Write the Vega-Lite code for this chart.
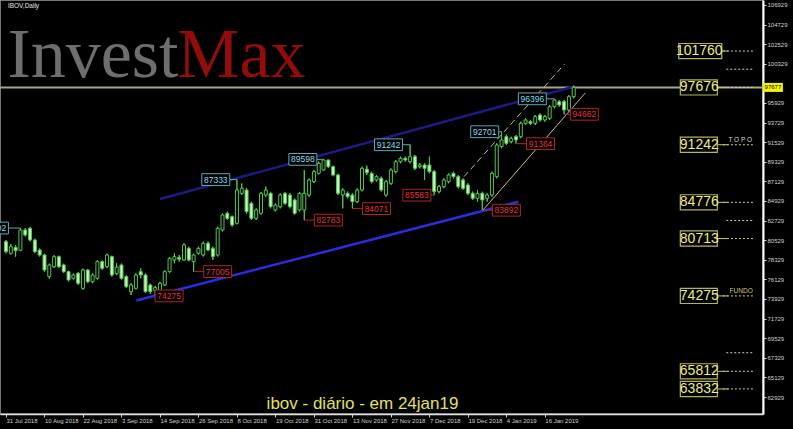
{
"$schema":"https://vega.github.io/schema/vega-lite/v6.json",
"width":763,"height":414,
"autosize":{"type":"none"},
"padding":{"left":0,"top":0,"right":30,"bottom":15},
"background":"#000000",
"config":{"view":{"stroke":"#9a9a9a","strokeWidth":1.5},"font":"Liberation Sans","axis":{"grid":false,"labelOverlap":false,"labelFlush":false}},
"resolve":{"axis":{"x":"independent","y":"independent"}},
"data":{"values":[{"one":1}]},
"datasets":{
"candles":[
{"i":0,"o":80365,"h":80552,"l":79055,"c":79242},{"i":1,"o":79055,"h":80100,"l":78900,"c":79803},{"i":2,"o":79729,"h":79990,"l":78681,"c":79355},{"i":3,"o":79400,"h":81892,"l":79300,"c":81674},{"i":4,"o":81674,"h":81900,"l":80950,"c":81113},{"i":5,"o":81861,"h":82000,"l":80400,"c":80552},{"i":6,"o":80552,"h":80700,"l":79100,"c":79242},{"i":7,"o":79429,"h":79600,"l":78700,"c":78868},{"i":8,"o":78868,"h":79000,"l":77000,"c":77185},{"i":9,"o":76436,"h":77900,"l":76200,"c":77746},
{"i":10,"o":77559,"h":78850,"l":77400,"c":78681},{"i":11,"o":78681,"h":78800,"l":77400,"c":77559},{"i":12,"o":77746,"h":77900,"l":76850,"c":76997},{"i":13,"o":76997,"h":77100,"l":75900,"c":76062},{"i":14,"o":76249,"h":76800,"l":76100,"c":76623},{"i":15,"o":76810,"h":76950,"l":75500,"c":75688},{"i":16,"o":75127,"h":77350,"l":74950,"c":77185},{"i":17,"o":77185,"h":77300,"l":75700,"c":75875},{"i":18,"o":75875,"h":76800,"l":75700,"c":76623},{"i":19,"o":76249,"h":78300,"l":76100,"c":78120},
{"i":20,"o":78120,"h":78250,"l":77200,"c":77372},{"i":21,"o":77559,"h":79000,"l":77400,"c":78868},{"i":22,"o":78681,"h":78800,"l":76450,"c":76623},{"i":23,"o":76800,"h":77933,"l":76600,"c":77500},{"i":24,"o":77746,"h":77900,"l":76100,"c":76249},{"i":25,"o":76436,"h":76600,"l":75150,"c":75314},{"i":26,"o":74753,"h":75700,"l":74379,"c":75501},{"i":27,"o":75127,"h":76800,"l":75000,"c":76623},{"i":28,"o":76997,"h":77372,"l":76249,"c":76623},{"i":29,"o":76623,"h":76800,"l":74600,"c":74753},
{"i":30,"o":75501,"h":75650,"l":74500,"c":74753},{"i":31,"o":74900,"h":75400,"l":74275,"c":75200},{"i":32,"o":74753,"h":75850,"l":74600,"c":75688},{"i":33,"o":75501,"h":77150,"l":75400,"c":76997},{"i":34,"o":76997,"h":78650,"l":76850,"c":78494},{"i":35,"o":78307,"h":79055,"l":77933,"c":78681},{"i":36,"o":78600,"h":78868,"l":78120,"c":78400},{"i":37,"o":78307,"h":80178,"l":78200,"c":79990},{"i":38,"o":79616,"h":79800,"l":78150,"c":78307},{"i":39,"o":78120,"h":79000,"l":77005,"c":78868},
{"i":40,"o":79055,"h":79800,"l":78900,"c":79616},{"i":41,"o":78868,"h":80365,"l":78700,"c":80178},{"i":42,"o":80178,"h":80365,"l":79300,"c":79429},{"i":43,"o":79616,"h":79800,"l":78307,"c":78681},{"i":44,"o":78868,"h":82048,"l":78700,"c":81861},{"i":45,"o":81674,"h":83544,"l":81500,"c":83357},{"i":46,"o":83544,"h":83731,"l":82800,"c":82983},{"i":47,"o":83170,"h":83300,"l":82050,"c":82235},{"i":48,"o":82422,"h":87333,"l":82300,"c":86163},{"i":49,"o":85789,"h":86900,"l":85600,"c":86350},
{"i":50,"o":86163,"h":86400,"l":83500,"c":83731},{"i":51,"o":84667,"h":84850,"l":82800,"c":82983},{"i":52,"o":82983,"h":84100,"l":82800,"c":83919},{"i":53,"o":83544,"h":85950,"l":83400,"c":85789},{"i":54,"o":85602,"h":86550,"l":85400,"c":86163},{"i":55,"o":85789,"h":85950,"l":84100,"c":84293},{"i":56,"o":83919,"h":84650,"l":83750,"c":84480},{"i":57,"o":84293,"h":85800,"l":84100,"c":85602},{"i":58,"o":85789,"h":85950,"l":84500,"c":84667},{"i":59,"o":85602,"h":85800,"l":84100,"c":84293},
{"i":60,"o":85041,"h":85200,"l":83400,"c":83545},{"i":61,"o":83919,"h":85950,"l":83750,"c":85789},{"i":62,"o":83919,"h":88408,"l":82783,"c":85789},{"i":63,"o":85602,"h":87450,"l":85400,"c":87286},{"i":64,"o":87098,"h":88400,"l":86950,"c":88221},{"i":65,"o":88034,"h":89343,"l":87900,"c":89157},{"i":66,"o":88408,"h":89598,"l":88300,"c":89530},{"i":67,"o":89530,"h":89550,"l":88650,"c":88782},{"i":68,"o":88782,"h":88900,"l":87700,"c":87847},{"i":69,"o":87847,"h":88000,"l":85600,"c":85789},
{"i":70,"o":85602,"h":86351,"l":84106,"c":86164},{"i":71,"o":85789,"h":85977,"l":85228,"c":85415},{"i":72,"o":85602,"h":85789,"l":84071,"c":84854},{"i":73,"o":84854,"h":86351,"l":84700,"c":86164},{"i":74,"o":86164,"h":88782,"l":86000,"c":88595},{"i":75,"o":88500,"h":88900,"l":87847,"c":88100},{"i":76,"o":88034,"h":88221,"l":86912,"c":87098},{"i":77,"o":87286,"h":87847,"l":87098,"c":87660},{"i":78,"o":87473,"h":87660,"l":86000,"c":86164},{"i":79,"o":85602,"h":87286,"l":85415,"c":87098},
{"i":80,"o":86912,"h":88595,"l":86725,"c":88408},{"i":81,"o":88221,"h":89530,"l":88034,"c":89343},{"i":82,"o":89343,"h":89905,"l":89157,"c":89718},{"i":83,"o":89718,"h":89905,"l":89343,"c":89530},{"i":84,"o":89343,"h":91242,"l":89157,"c":89905},{"i":85,"o":89905,"h":90100,"l":88400,"c":88595},{"i":86,"o":88782,"h":89157,"l":88595,"c":88970},{"i":87,"o":88970,"h":89157,"l":87286,"c":88595},{"i":88,"o":88970,"h":89905,"l":88034,"c":88221},{"i":89,"o":88221,"h":88408,"l":85583,"c":85977},
{"i":90,"o":85977,"h":86725,"l":85789,"c":86538},{"i":91,"o":86538,"h":87473,"l":86351,"c":87286},{"i":92,"o":87098,"h":88034,"l":86912,"c":87847},{"i":93,"o":88034,"h":88221,"l":87473,"c":87660},{"i":94,"o":87660,"h":87847,"l":86351,"c":86538},{"i":95,"o":87286,"h":87473,"l":86164,"c":86351},{"i":96,"o":86725,"h":86912,"l":85602,"c":85789},{"i":97,"o":85789,"h":85977,"l":85041,"c":85228},{"i":98,"o":85228,"h":86164,"l":84854,"c":85789},{"i":99,"o":85789,"h":85977,"l":83892,"c":85041},
{"i":100,"o":85228,"h":85789,"l":84854,"c":85602},{"i":101,"o":85602,"h":88221,"l":85415,"c":88034},{"i":102,"o":87660,"h":91401,"l":87473,"c":91214},{"i":103,"o":91027,"h":92701,"l":90840,"c":91775},{"i":104,"o":92149,"h":92400,"l":91214,"c":91401},{"i":105,"o":91588,"h":92149,"l":91401,"c":91962},{"i":106,"o":92149,"h":92336,"l":91364,"c":91775},{"i":107,"o":92149,"h":93833,"l":91962,"c":93646},{"i":108,"o":93646,"h":94207,"l":93459,"c":94020},{"i":109,"o":93833,"h":94020,"l":93459,"c":93646},
{"i":110,"o":93646,"h":94581,"l":93459,"c":94394},{"i":111,"o":94581,"h":94768,"l":93833,"c":94020},{"i":112,"o":94020,"h":94581,"l":93833,"c":94394},{"i":113,"o":94207,"h":95703,"l":94020,"c":95516},{"i":114,"o":95516,"h":96396,"l":95329,"c":96264},{"i":115,"o":96077,"h":96264,"l":95516,"c":95703},{"i":116,"o":96077,"h":96264,"l":94662,"c":95142},{"i":117,"o":95142,"h":96826,"l":94955,"c":96639},{"i":118,"o":96639,"h":97900,"l":96451,"c":97676}
],
"marks":[
{"bi":-2.4,"i":3,"p":81892,"t":"81892","k":"h"},{"bi":43.6,"i":48,"p":87333,"t":"87333","k":"h"},{"bi":61.7,"i":66,"p":89598,"t":"89598","k":"h"},{"bi":79.5,"i":84,"p":91242,"t":"91242","k":"h"},{"bi":99.5,"i":103,"p":92701,"t":"92701","k":"h"},{"bi":109.4,"i":114,"p":96396,"t":"96396","k":"h"},
{"bi":33.9,"i":31,"p":74275,"t":"74275","k":"l"},{"bi":44.0,"i":39,"p":77005,"t":"77005","k":"l"},{"bi":67.0,"i":62,"p":82783,"t":"82783","k":"l"},{"bi":77.0,"i":72,"p":84071,"t":"84071","k":"l"},{"bi":85.4,"i":89,"p":85583,"t":"85583","k":"l"},{"bi":104.0,"i":99,"p":83892,"t":"83892","k":"l"},{"bi":111.1,"i":106,"p":91364,"t":"91364","k":"l"},{"bi":120.2,"i":116,"p":94662,"t":"94662","k":"l"}
],
"trend":[
{"x1":32.0,"p1":85153,"x2":117.7,"p2":97723,"s":"up"},{"x1":27.1,"p1":73760,"x2":106.5,"p2":84849,"s":"low"},{"x1":99.1,"p1":83892,"x2":120.4,"p2":97050,"s":"ch"},{"x1":95.2,"p1":87655,"x2":116.1,"p2":100305,"s":"dash"}
],
"levels":[{"p":101760,"t":"101760"},{"p":97676,"t":"97676"},{"p":91242,"t":"91242"},{"p":84776,"t":"84776"},{"p":80713,"t":"80713"},{"p":74275,"t":"74275"},{"p":65812,"t":"65812"},{"p":63832,"t":"63832"}],
"mids":[{"p":99718},{"p":82745},{"p":67900}]
},
"layer":[
{"data":{"name":"candles"},"mark":{"type":"rule","color":"#52c452","strokeWidth":1,"clip":true},
 "encoding":{
  "x":{"field":"i","type":"quantitative","title":null,"scale":{"domain":[-0.205,156.3],"nice":false,"zero":false},
   "axis":{"values":[0,8,16,24,32,40,48,56,64,72,80,88,96,104,112],"labelExpr":"['31 Jul 2018','10 Aug 2018','22 Aug 2018','3 Sep 2018','14 Sep 2018','26 Sep 2018','8 Oct 2018','19 Oct 2018','31 Oct 2018','13 Nov 2018','27 Nov 2018','7 Dec 2018','19 Dec 2018','4 Jan 2019','16 Jan 2019'][round(datum.value/8)]","labelAlign":"left","labelDx":1,"labelFontSize":6,"labelColor":"#d2d2d2","labelFont":"Liberation Sans","tickColor":"#d2d2d2","tickSize":3,"labelPadding":0.5,"labelBaseline":"top","domainColor":"#e0e0e0","domainWidth":1.5,"grid":false,"labelOverlap":false,"labelFlush":false,"labelBound":false,"title":null}},
  "y":{"field":"l","type":"quantitative","title":null,"scale":{"domain":[61021,107488],"nice":false,"zero":false},
   "axis":{"orient":"right","values":[62929,65129,67329,69529,71729,73929,76129,78329,80529,82729,84929,87129,89329,91529,93729,95929,100329,102529,104729,106929],"format":"d","labelAlign":"left","labelFontSize":6,"labelColor":"#d2d2d2","labelFont":"Liberation Sans","tickColor":"#d2d2d2","tickSize":3,"labelPadding":1,"domainColor":"#ffffff","domainWidth":2,"grid":false,"labelOverlap":false,"labelFlush":false,"labelBound":false,"title":null}},
  "y2":{"field":"h"}}},
{"mark":{"type":"rule","color":"#a9a68a","strokeWidth":2},
 "encoding":{"y":{"datum":97676,"type":"quantitative","axis":null}}},
{"data":{"name":"trend"},"transform":[{"filter":"datum.s=='up'"}],"mark":{"type":"rule","color":"#1b1b82","strokeWidth":2.5},
 "encoding":{"x":{"field":"x1","type":"quantitative","axis":null},"x2":{"field":"x2"},"y":{"field":"p1","type":"quantitative","axis":null},"y2":{"field":"p2"}}},
{"data":{"name":"trend"},"transform":[{"filter":"datum.s=='low'"}],"mark":{"type":"rule","color":"#2c2ce0","strokeWidth":2.5},
 "encoding":{"x":{"field":"x1","type":"quantitative","axis":null},"x2":{"field":"x2"},"y":{"field":"p1","type":"quantitative","axis":null},"y2":{"field":"p2"}}},
{"data":{"name":"trend"},"transform":[{"filter":"datum.s=='ch'"}],"mark":{"type":"rule","color":"#c9b992","strokeWidth":1},
 "encoding":{"x":{"field":"x1","type":"quantitative","axis":null},"x2":{"field":"x2"},"y":{"field":"p1","type":"quantitative","axis":null},"y2":{"field":"p2"}}},
{"data":{"name":"trend"},"transform":[{"filter":"datum.s=='dash'"}],"mark":{"type":"rule","color":"#c9b992","strokeWidth":1,"strokeDash":[6,4]},
 "encoding":{"x":{"field":"x1","type":"quantitative","axis":null},"x2":{"field":"x2"},"y":{"field":"p1","type":"quantitative","axis":null},"y2":{"field":"p2"}}},
{"data":{"name":"candles"},"mark":{"type":"rule","color":"#52c452","strokeWidth":1,"clip":true},
 "encoding":{"x":{"field":"i","type":"quantitative","axis":null},"y":{"field":"l","type":"quantitative","axis":null},"y2":{"field":"h"}}},
{"data":{"name":"candles"},"mark":{"type":"bar","width":3,"stroke":"#52c452","strokeWidth":1,"clip":true},
 "encoding":{
  "x":{"field":"i","type":"quantitative","axis":null},
  "y":{"field":"o","type":"quantitative","axis":null},
  "y2":{"field":"c"},
  "fill":{"condition":{"test":"datum.c >= datum.o","value":"#000000"},"value":"#c9f2bb"}}},
{"data":{"name":"marks"},"mark":{"type":"rule","strokeWidth":1,"clip":true},
 "encoding":{
  "x":{"field":"bi","type":"quantitative","axis":null},"x2":{"field":"i"},
  "y":{"field":"p","type":"quantitative","axis":null},
  "color":{"condition":{"test":"datum.k=='h'","value":"#5aaabb"},"value":"#b02424"}}},
{"data":{"name":"marks"},"mark":{"type":"point","shape":"M-1,-0.42L1,-0.42L1,0.42L-1,0.42Z","filled":true,"fill":"#000000","size":784,"strokeWidth":1,"opacity":1,"clip":true},
 "encoding":{
  "x":{"field":"bi","type":"quantitative","axis":null},
  "y":{"field":"p","type":"quantitative","axis":null},
  "stroke":{"condition":{"test":"datum.k=='h'","value":"#5aaabb"},"value":"#b02424"}}},
{"data":{"name":"marks"},"mark":{"type":"text","fontSize":8.5,"font":"Liberation Sans","align":"center","baseline":"middle","clip":true},
 "encoding":{
  "x":{"field":"bi","type":"quantitative","axis":null},
  "y":{"field":"p","type":"quantitative","axis":null},
  "text":{"field":"t"},
  "color":{"condition":{"test":"datum.k=='h'","value":"#86dcec"},"value":"#e23434"}}},
{"data":{"name":"levels"},"mark":{"type":"rule","color":"#d2d0a8","strokeWidth":1,"strokeDash":[2,2]},
 "encoding":{"x":{"datum":149,"type":"quantitative","axis":null},"x2":{"datum":155.3},"y":{"field":"p","type":"quantitative","axis":null}}},
{"data":{"name":"levels"},"mark":{"type":"rule","color":"#c4c46a","strokeWidth":1},
 "encoding":{"x":{"datum":146,"type":"quantitative","axis":null},"x2":{"datum":150.2},"y":{"field":"p","type":"quantitative","axis":null}}},
{"data":{"name":"mids"},"mark":{"type":"rule","color":"#d2d0a8","strokeWidth":1,"strokeDash":[2,2]},
 "encoding":{"x":{"datum":149.7,"type":"quantitative","axis":null},"x2":{"datum":155.3},"y":{"field":"p","type":"quantitative","axis":null}}},
{"data":{"name":"levels"},"transform":[{"filter":"length(datum.t)==5"}],"mark":{"type":"point","shape":"M-1,-0.41L1,-0.41L1,0.41L-1,0.41Z","filled":true,"fill":"#000000","size":1369,"stroke":"#b4b45c","strokeWidth":1.2,"opacity":1},
 "encoding":{"x":{"datum":144.0,"type":"quantitative","axis":null},"y":{"field":"p","type":"quantitative","axis":null}}},
{"data":{"name":"levels"},"transform":[{"filter":"length(datum.t)==6"}],"mark":{"type":"point","shape":"M-1,-0.35L1,-0.35L1,0.35L-1,0.35Z","filled":true,"fill":"#000000","size":1849,"stroke":"#b4b45c","strokeWidth":1.2,"opacity":1},
 "encoding":{"x":{"datum":144.3,"type":"quantitative","axis":null},"y":{"field":"p","type":"quantitative","axis":null}}},
{"data":{"name":"levels"},"mark":{"type":"text","fontSize":14,"font":"Liberation Sans","align":"center","baseline":"middle","color":"#eeee78"},
 "encoding":{"x":{"datum":144.1,"type":"quantitative","axis":null},"y":{"field":"p","type":"quantitative","axis":null},"text":{"field":"t"}}},
{"mark":{"type":"text","fontSize":6.5,"font":"Liberation Sans","align":"center","baseline":"middle","color":"#d8d8d8","text":"T O P O"},
 "encoding":{"x":{"datum":152.6,"type":"quantitative","axis":null},"y":{"datum":91800,"type":"quantitative","axis":null}}},
{"mark":{"type":"text","fontSize":6.5,"font":"Liberation Sans","align":"center","baseline":"middle","color":"#c8c870","text":"FUNDO"},
 "encoding":{"x":{"datum":152.8,"type":"quantitative","axis":null},"y":{"datum":74830,"type":"quantitative","axis":null}}},
{"mark":{"type":"text","fontSize":70,"font":"Liberation Serif","align":"left","baseline":"alphabetic","color":"#6e6e6e","text":"Invest"},
 "encoding":{"x":{"datum":0.3,"type":"quantitative","axis":null},"y":{"datum":98846,"type":"quantitative","axis":null}}},
{"mark":{"type":"text","fontSize":70,"font":"Liberation Serif","align":"left","baseline":"alphabetic","color":"#920c0c","text":"Max"},
 "encoding":{"x":{"datum":35.6,"type":"quantitative","axis":null},"y":{"datum":98846,"type":"quantitative","axis":null}}},
{"mark":{"type":"text","fontSize":6.5,"font":"Liberation Sans","align":"left","baseline":"middle","color":"#e6e6e6","text":"IBOV,Daily"},
 "encoding":{"x":{"datum":0.4,"type":"quantitative","axis":null},"y":{"datum":106759,"type":"quantitative","axis":null}}},
{"mark":{"type":"text","fontSize":17,"font":"Liberation Sans","align":"center","baseline":"middle","color":"#e2e25a","text":"ibov - diário - em 24jan19"},
 "encoding":{"x":{"datum":74.1,"type":"quantitative","axis":null},"y":{"datum":62143,"type":"quantitative","axis":null}}},
{"mark":{"type":"point","shape":"M-1,-0.45L1,-0.45L1,0.45L-1,0.45Z","filled":true,"fill":"#f4f400","size":400,"opacity":1},
 "encoding":{"x":{"datum":159.4,"type":"quantitative","axis":null},"y":{"datum":97676,"type":"quantitative","axis":null}}},
{"mark":{"type":"text","fontSize":6,"font":"Liberation Sans","align":"center","baseline":"middle","color":"#000000","text":"97677"},
 "encoding":{"x":{"datum":159.4,"type":"quantitative","axis":null},"y":{"datum":97676,"type":"quantitative","axis":null}}}
]
}
